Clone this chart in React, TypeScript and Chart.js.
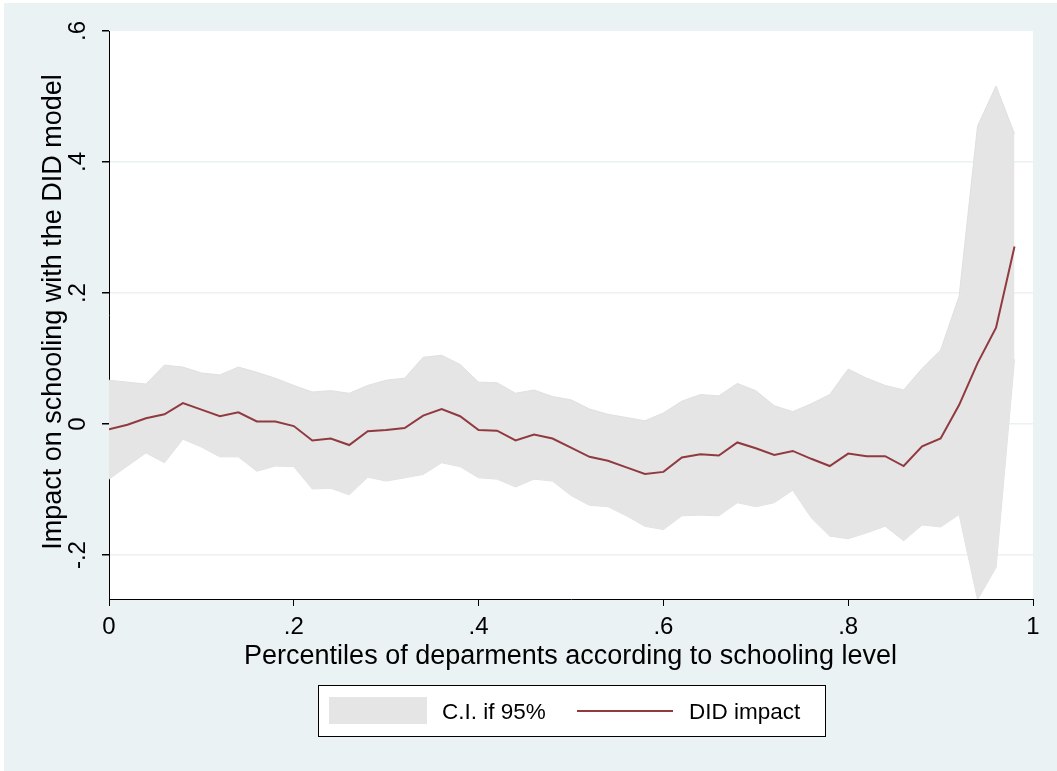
import React, { useEffect, useRef } from "react";
import { Chart, registerables } from "chart.js";

Chart.register(...registerables);

// ---- Data ----
const percentiles = [
  0, 0.02, 0.04, 0.06, 0.08, 0.1, 0.12, 0.14, 0.16, 0.18,
  0.2, 0.22, 0.24, 0.26, 0.28, 0.3, 0.32, 0.34, 0.36, 0.38,
  0.4, 0.42, 0.44, 0.46, 0.48, 0.5, 0.52, 0.54, 0.56, 0.58,
  0.6, 0.62, 0.64, 0.66, 0.68, 0.7, 0.72, 0.74, 0.76, 0.78,
  0.8, 0.82, 0.84, 0.86, 0.88, 0.9, 0.92, 0.94, 0.96, 0.98,
];

const didImpact = [
  -0.008, -0.001, 0.009, 0.015, 0.032, 0.022, 0.012, 0.018, 0.004, 0.004,
  -0.003, -0.025, -0.022, -0.032, -0.011, -0.009, -0.006, 0.013, 0.023, 0.012,
  -0.009, -0.01, -0.025, -0.016, -0.022, -0.036, -0.05, -0.056, -0.066, -0.076,
  -0.073, -0.051, -0.046, -0.048, -0.028, -0.037, -0.047, -0.041, -0.053, -0.064,
  -0.045, -0.049, -0.049, -0.064, -0.034, -0.022, 0.029, 0.093, 0.147, 0.271,
];

const ciUpper = [
  0.067, 0.064, 0.061, 0.09, 0.087, 0.078, 0.075, 0.087, 0.079, 0.07,
  0.059, 0.049, 0.051, 0.047, 0.059, 0.067, 0.07, 0.102, 0.105, 0.091,
  0.064, 0.063, 0.047, 0.052, 0.042, 0.037, 0.023, 0.015, 0.01, 0.005,
  0.017, 0.035, 0.045, 0.043, 0.062, 0.051, 0.028, 0.019, 0.031, 0.045,
  0.084, 0.07, 0.059, 0.052, 0.085, 0.113, 0.195, 0.455, 0.516, 0.443,
];

const ciLower = [
  -0.084, -0.064, -0.044, -0.059, -0.023, -0.035, -0.05, -0.05, -0.072, -0.064,
  -0.065, -0.099, -0.098, -0.108, -0.081, -0.087, -0.082, -0.077, -0.059, -0.065,
  -0.082, -0.084, -0.096, -0.084, -0.087, -0.109, -0.124, -0.126, -0.14, -0.156,
  -0.161, -0.14, -0.139, -0.14, -0.12, -0.126, -0.12, -0.101, -0.143, -0.171,
  -0.175, -0.166, -0.156, -0.178, -0.154, -0.157, -0.138, -0.268, -0.219, 0.099,
];

const xTickValues = [0, 0.2, 0.4, 0.6, 0.8, 1];
const yTickValues = [-0.2, 0, 0.2, 0.4, 0.6];
const xTitle = "Percentiles of deparments according to schooling level";
const yTitle = "Impact on schooling with the DID model";
const ciLabel = "C.I. if 95%";
const lineLabel = "DID impact";

// ---- Styles ----
const OUTER_BG = "#EAF2F3";
const GRID = "#EAF2F3";
const BAND = "#E5E5E5";
const BAND_EDGE = "#E0E0E0";
const LINE = "#903A40";
const FONT_FAMILY = '"Liberation Sans", Arial, Helvetica, sans-serif';

function fmt(v: number): string {
  if (Math.abs(v) < 1e-9) return "0";
  const s = String(+v.toFixed(2));
  return s.replace(/^(-?)0\./, "$1.");
}

const decorPlugin = {
  id: "stataDecor",
  beforeDraw(chart: any) {
    const { ctx, chartArea, width, height } = chart;
    ctx.save();
    ctx.fillStyle = "#FFFFFF";
    ctx.fillRect(0, 0, width, height);
    ctx.fillStyle = OUTER_BG;
    ctx.fillRect(4, 3, width - 4, height - 3);
    ctx.fillStyle = "#FFFFFF";
    ctx.fillRect(
      chartArea.left,
      chartArea.top,
      chartArea.right - chartArea.left,
      chartArea.bottom - chartArea.top
    );
    ctx.restore();
  },
  afterDraw(chart: any) {
    const { ctx, chartArea } = chart;
    const xs = chart.scales.x;
    const ys = chart.scales.y;
    ctx.save();
    ctx.fillStyle = "#000000";

    // x tick labels
    ctx.font = `24px ${FONT_FAMILY}`;
    ctx.textAlign = "center";
    ctx.textBaseline = "alphabetic";
    xTickValues.forEach((v) => {
      ctx.fillText(fmt(v), xs.getPixelForValue(v), 634);
    });

    // y tick labels (rotated)
    yTickValues.forEach((v) => {
      ctx.save();
      ctx.translate(85, ys.getPixelForValue(v));
      ctx.rotate(-Math.PI / 2);
      ctx.fillText(fmt(v), 0, 0);
      ctx.restore();
    });

    // axis titles
    ctx.font = `27px ${FONT_FAMILY}`;
    ctx.fillText(xTitle, (chartArea.left + chartArea.right) / 2 - 0.5, 664);
    ctx.save();
    ctx.translate(61, (chartArea.top + chartArea.bottom) / 2 - 3);
    ctx.rotate(-Math.PI / 2);
    ctx.fillText(yTitle, 0, 0);
    ctx.restore();

    // legend
    const lx = 318, ly = 685, lw = 507, lh = 51;
    ctx.fillStyle = "#FFFFFF";
    ctx.fillRect(lx, ly, lw, lh);
    ctx.strokeStyle = "#000000";
    ctx.lineWidth = 1;
    ctx.strokeRect(lx + 0.5, ly + 0.5, lw, lh);
    ctx.fillStyle = BAND;
    ctx.fillRect(329, 697, 98, 27);
    ctx.strokeStyle = LINE;
    ctx.lineWidth = 2;
    ctx.beginPath();
    ctx.moveTo(577, 711);
    ctx.lineTo(673, 711);
    ctx.stroke();
    ctx.fillStyle = "#000000";
    ctx.font = `22.5px ${FONT_FAMILY}`;
    ctx.textAlign = "left";
    ctx.fillText(ciLabel, 442, 719);
    ctx.fillText(lineLabel, 689, 719);
    ctx.restore();
  },
};

export default function App() {
  const canvasRef = useRef<HTMLCanvasElement | null>(null);

  useEffect(() => {
    document.body.style.margin = "0";
    const canvas = canvasRef.current;
    if (!canvas) return;

    const toPoints = (ys: number[]) =>
      percentiles.map((x, i) => ({ x, y: ys[i] }));

    const chart = new Chart(canvas, {
      type: "line",
      data: {
        datasets: [
          {
            label: lineLabel,
            data: toPoints(didImpact),
            borderColor: LINE,
            borderWidth: 2,
            pointRadius: 0,
            fill: false,
            tension: 0,
          },
          {
            label: ciLabel,
            data: toPoints(ciUpper),
            borderColor: BAND_EDGE,
            borderWidth: 1,
            backgroundColor: BAND,
            pointRadius: 0,
            fill: "+1",
            tension: 0,
          },
          {
            label: ciLabel + " (lower)",
            data: toPoints(ciLower),
            borderColor: BAND_EDGE,
            borderWidth: 1,
            pointRadius: 0,
            fill: false,
            tension: 0,
          },
        ],
      },
      options: {
        responsive: false,
        animation: false,
        devicePixelRatio: 1,
        layout: { padding: { left: 0, right: 24, top: 31, bottom: 0 } },
        plugins: {
          legend: { display: false },
          tooltip: { enabled: false },
          title: { display: false },
        },
        scales: {
          x: {
            type: "linear",
            min: 0,
            max: 1,
            afterBuildTicks: (s: any) => {
              s.ticks = xTickValues.map((v) => ({ value: v }));
            },
            afterFit: (s: any) => {
              s.height = 172;
            },
            ticks: { display: false },
            grid: {
              display: true,
              drawOnChartArea: false,
              drawTicks: true,
              tickLength: 7,
              color: "#000000",
              lineWidth: 1,
            },
            border: { display: true, color: "#000000", width: 1 },
          },
          y: {
            type: "linear",
            min: -0.267,
            max: 0.6,
            afterBuildTicks: (s: any) => {
              s.ticks = yTickValues.map((v) => ({ value: v }));
            },
            afterFit: (s: any) => {
              s.width = 109;
            },
            ticks: { display: false },
            grid: {
              display: true,
              drawOnChartArea: true,
              drawTicks: true,
              tickLength: 7,
              color: (c: any) =>
                c.tick && Math.abs(c.tick.value - 0.6) < 1e-9
                  ? "rgba(0,0,0,0)"
                  : GRID,
              tickColor: "#000000",
              lineWidth: 1.5,
            },
            border: { display: true, color: "#000000", width: 1 },
          },
        },
      },
      plugins: [decorPlugin],
    });

    return () => chart.destroy();
  }, []);

  return (
    <canvas
      ref={canvasRef}
      width={1057}
      height={771}
      style={{ display: "block", width: 1057, height: 771 }}
    />
  );
}
